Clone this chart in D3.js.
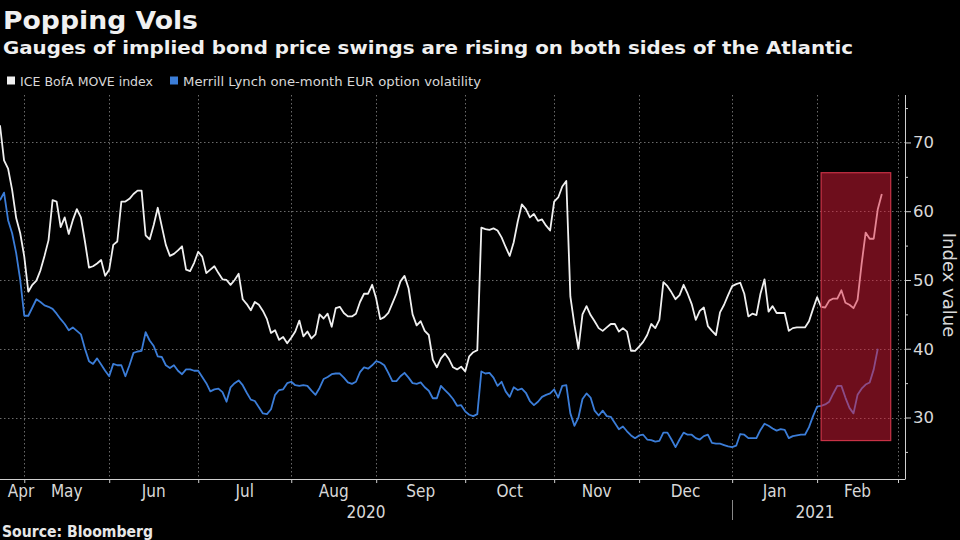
<!DOCTYPE html>
<html><head><meta charset="utf-8">
<script src="https://cdn.jsdelivr.net/npm/d3@7"></script>
<style>html,body{margin:0;padding:0;background:#000;} svg{display:block}</style>
</head><body><svg id="c" width="960" height="540"></svg>
<script>
// ---- data (x = trading-day number counted from 23 Apr 2020) ----
const titleText = "Popping Vols";
const subtitleText = "Gauges of implied bond price swings are rising on both sides of the Atlantic";
const sourceText = "Source: Bloomberg";
const yAxisTitle = "Index value";
const seriesNames = ["ICE BofA MOVE index", "Merrill Lynch one-month EUR option volatility"];

const moveIndex = [
72.5,67.4,66.2,63.1,59.0,56.8,53.4,48.3,49.3,49.9,
51.4,53.5,55.8,61.6,61.4,57.7,59.1,56.7,58.7,60.3,
59.1,55.6,51.8,52.0,52.4,52.9,50.6,51.5,55.1,55.6,
61.4,61.4,61.8,62.5,63.0,63.0,56.5,55.9,58.0,60.5,
57.8,55.1,53.5,53.8,54.3,54.9,51.5,51.3,52.5,54.1,
53.4,51.0,51.5,52.0,51.0,50.1,50.0,49.3,50.0,50.9,
47.2,46.5,45.6,46.8,46.4,45.5,44.3,42.3,42.7,41.3,
41.7,40.8,41.6,42.5,44.1,41.8,42.5,41.5,42.1,45.0,
44.4,45.1,43.2,45.9,46.1,45.2,44.7,44.7,45.1,46.8,
48.0,48.0,49.3,47.3,44.3,44.6,45.2,46.6,48.0,49.8,
50.6,48.8,45.0,43.4,44.0,42.6,42.0,38.4,37.3,38.6,
39.3,38.5,37.3,37.0,37.4,36.7,38.9,39.5,39.8,57.6,
57.4,57.3,57.5,57.2,56.2,54.8,53.5,55.5,58.5,61.0,
60.3,59.1,59.6,58.6,58.8,57.9,57.2,61.4,62.0,63.6,
64.4,47.6,43.5,40.0,45.0,46.2,44.9,44.0,43.0,42.6,
43.1,43.6,43.6,42.5,43.0,42.5,39.7,39.7,40.3,41.0,
42.0,43.6,43.0,44.2,49.7,49.1,48.2,47.2,47.8,49.3,
48.0,46.5,44.2,45.5,46.0,43.3,42.6,42.0,45.3,46.4,
47.8,49.1,49.4,49.6,48.0,44.7,45.1,44.9,48.0,50.1,
45.4,46.2,45.2,45.2,45.2,42.6,43.0,43.1,43.1,43.1,
44.0,45.8,47.5,46.1,46.0,47.0,47.3,47.3,48.5,46.7,
46.4,45.9,47.1,52.3,56.9,56.0,56.0,60.3,62.5
];

const eurVol = [
61.6,62.7,58.7,56.8,53.9,50.0,44.8,44.8,46.0,47.2,
46.8,46.3,46.1,45.8,45.1,44.3,43.6,42.7,43.1,42.6,
42.1,40.0,38.2,37.8,38.6,37.7,36.8,36.0,37.8,37.6,
37.6,36.0,37.6,39.4,39.6,39.7,42.4,41.2,40.4,38.9,
38.8,37.6,37.2,37.6,36.8,36.3,37.0,37.0,36.8,36.8,
35.9,35.0,33.8,34.1,34.2,33.7,32.3,34.4,35.0,35.4,
34.7,33.6,32.6,32.4,31.5,30.6,30.5,31.2,33.3,34.0,
34.1,35.0,35.2,34.7,34.6,34.7,34.6,33.9,33.3,34.3,
35.6,35.9,36.3,36.4,36.4,35.8,35.1,34.9,35.2,36.6,
37.3,37.1,37.6,38.2,38.0,37.6,36.5,35.3,35.3,36.0,
36.5,35.8,35.0,34.9,35.1,34.4,33.9,32.8,32.8,34.6,
34.0,33.4,32.7,31.7,31.8,30.9,30.4,30.2,30.5,36.7,
36.4,36.5,35.8,34.6,35.2,33.8,33.0,34.4,34.0,34.2,
33.6,32.4,31.8,32.3,33.0,33.3,33.5,34.1,32.9,34.6,
34.7,30.6,28.8,30.0,32.7,33.5,32.9,31.0,30.3,31.0,
30.2,30.1,29.2,28.3,28.7,28.0,27.4,27.0,27.4,27.5,
26.8,26.7,26.5,26.6,27.8,27.8,26.8,25.7,26.8,27.8,
27.5,27.5,27.0,26.8,27.3,27.5,26.3,26.2,26.2,26.0,
25.8,25.7,25.9,27.6,27.5,27.0,27.0,27.0,28.2,29.1,
28.8,28.4,28.1,28.3,28.2,27.0,27.3,27.4,27.5,27.5,
28.6,30.2,31.6,31.7,31.9,32.3,33.5,34.6,34.6,32.9,
31.4,30.6,33.3,34.2,34.8,35.1,37.0,40.0
];

const monthLabels = ["Apr","May","Jun","Jul","Aug","Sep","Oct","Nov","Dec","Jan","Feb"];
const monthBounds = [0,6,27,49,72,93,115,137,158,181,202,222];   // trading-day index of month starts
const yearLabels = ["2020","2021"];
const yearBounds = [0,181,222];
const yMajorTicks = [30,40,50,60,70];
const yMinorTicks = [25,35,45,55,65,75];
const highlightDays = [203, 220.2];
const highlightValues = [26.65, 65.6];

// ---- layout ----
const svg = d3.select("#c");
const W = 960, H = 540;
svg.append("rect").attr("width",W).attr("height",H).attr("fill","#000");

const plotLeft = 0, plotRight = 898, plotTop = 95, plotBottom = 479, axisX = 905;
const x = d3.scaleLinear().domain([0, 222]).range([plotLeft, plotRight]);
const y = d3.scaleLinear().domain([21.06, 76.9]).range([plotBottom, plotTop]);

const FONT = "'DejaVu Sans', sans-serif";
const FONTC = "'DejaVu Sans Condensed', 'DejaVu Sans', sans-serif";

// titles
svg.append("text").attr("x",3).attr("y",29).text(titleText)
  .attr("font-family",FONT).attr("font-weight","bold").attr("font-size",25.5)
  .attr("fill","#f0f0f0").attr("textLength",195).attr("lengthAdjust","spacingAndGlyphs");
svg.append("text").attr("x",3).attr("y",54).text(subtitleText)
  .attr("font-family",FONT).attr("font-weight","bold").attr("font-size",18)
  .attr("fill","#f0f0f0").attr("textLength",850).attr("lengthAdjust","spacingAndGlyphs");

// legend
const legendColors = ["#f0f0f0", "#3b7dd8"];
const legendX = [7, 170];
const legendTextW = [133, 298];
seriesNames.forEach((n,i)=>{
  svg.append("rect").attr("x",legendX[i]).attr("y",76.5).attr("width",8).attr("height",8).attr("fill",legendColors[i]);
  svg.append("text").attr("x",legendX[i]+13).attr("y",85.5).text(n)
    .attr("font-family",FONT).attr("font-size",13).attr("fill","#d8d8d8")
    .attr("textLength",legendTextW[i]).attr("lengthAdjust","spacingAndGlyphs");
});

// gridlines
const grid = svg.append("g").attr("stroke","#6a6a6a").attr("stroke-width",1).attr("stroke-dasharray","1.5,2.5");
yMajorTicks.forEach(v=>{
  grid.append("line").attr("x1",plotLeft).attr("x2",axisX).attr("y1",Math.round(y(v))+0.5).attr("y2",Math.round(y(v))+0.5);
});
monthBounds.slice(1).forEach(d=>{
  grid.append("line").attr("x1",Math.round(x(d))+0.5).attr("x2",Math.round(x(d))+0.5).attr("y1",plotTop).attr("y2",plotBottom);
});

// series lines
const line = d3.line().x((d,i)=>x(i)).y(d=>y(d)).curve(d3.curveLinear);
svg.append("path").datum(eurVol).attr("d",line).attr("fill","none")
  .attr("stroke","#3b7dd8").attr("stroke-width",1.8).attr("stroke-linejoin","round");
svg.append("path").datum(moveIndex).attr("d",line).attr("fill","none")
  .attr("stroke","#f0f0f0").attr("stroke-width",1.8).attr("stroke-linejoin","round");

// highlight box
svg.append("rect")
  .attr("x",x(highlightDays[0])).attr("width",x(highlightDays[1])-x(highlightDays[0]))
  .attr("y",y(highlightValues[1])).attr("height",y(highlightValues[0])-y(highlightValues[1]))
  .attr("fill","rgb(220,28,55)").attr("fill-opacity",0.5)
  .attr("stroke","rgb(200,50,70)").attr("stroke-width",1.2);

// y axis (right)
const yAxis = svg.append("g").attr("transform",`translate(${axisX},0)`);
yAxis.append("line").attr("x1",0.5).attr("x2",0.5).attr("y1",plotTop).attr("y2",plotBottom).attr("stroke","#d0d0d0");
yAxis.append("g").call(d3.axisRight(y).tickValues(yMajorTicks).tickSize(6).tickPadding(2).tickFormat(d3.format("d")))
  .call(g=>{g.select(".domain").remove();
    g.selectAll("line").attr("stroke","#d0d0d0");
    g.selectAll("text").attr("fill","#d8d8d8").attr("font-family",FONT).attr("font-size",16.5);});
yAxis.append("g").call(d3.axisRight(y).tickValues(yMinorTicks).tickSize(3).tickFormat(""))
  .call(g=>{g.select(".domain").remove(); g.selectAll("line").attr("stroke","#d0d0d0");});
svg.append("text").text(yAxisTitle)
  .attr("transform",`translate(943,${(plotTop+plotBottom)/2 - 2}) rotate(90)`)
  .attr("text-anchor","middle").attr("font-family",FONT).attr("font-size",18).attr("fill","#d8d8d8");

// x axis
const xAxis = svg.append("g").attr("transform",`translate(0,${plotBottom})`);
xAxis.append("line").attr("x1",plotLeft).attr("x2",axisX+0.5).attr("y1",0.5).attr("y2",0.5).attr("stroke","#d0d0d0");
xAxis.append("g").call(d3.axisBottom(x).tickValues(monthBounds.slice(1)).tickSize(4).tickFormat(""))
  .call(g=>{g.select(".domain").remove(); g.selectAll("line").attr("stroke","#d0d0d0");});
monthLabels.forEach((m,i)=>{
  let cx = x((monthBounds[i]+monthBounds[i+1])/2);
  cx = Math.max(cx, 21);
  svg.append("text").attr("x",cx).attr("y",497).attr("text-anchor","middle").text(m)
    .attr("font-family",FONTC).attr("font-size",17).attr("fill","#d8d8d8");
});
yearLabels.forEach((t,i)=>{
  svg.append("text").attr("x",x((yearBounds[i]+yearBounds[i+1])/2)).attr("y",518).attr("text-anchor","middle").text(t)
    .attr("font-family",FONTC).attr("font-size",17).attr("fill","#d8d8d8");
});
yearBounds.slice(1,-1).forEach(d=>{
  svg.append("line").attr("x1",Math.round(x(d))+0.5).attr("x2",Math.round(x(d))+0.5).attr("y1",500).attr("y2",520)
    .attr("stroke","#888");
});

// source
svg.append("text").attr("x",2).attr("y",537).text(sourceText)
  .attr("font-family",FONTC).attr("font-weight","bold").attr("font-size",15.5).attr("fill","#e8e8e8")
  .attr("textLength",151).attr("lengthAdjust","spacingAndGlyphs");
</script></body></html>
